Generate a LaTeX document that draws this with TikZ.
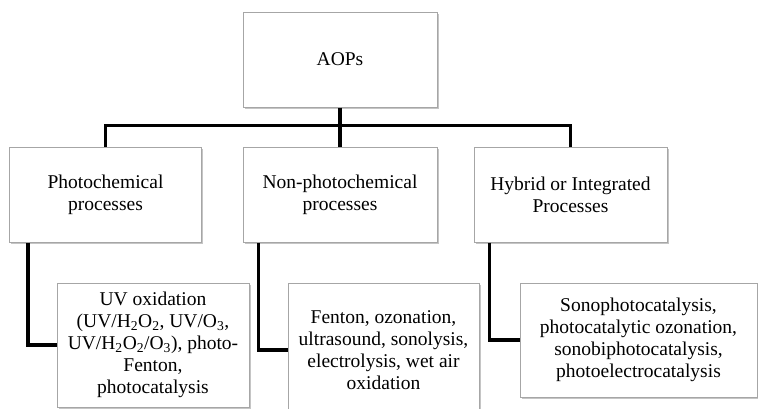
\documentclass[tikz,border=0pt]{standalone}
\usepackage{fontspec}
\setmainfont{Liberation Serif}
\usepackage{tikz}
\usetikzlibrary{positioning,shadows}
\tikzset{procbox/.style={
		draw=gray!70, line width=1pt, fill=white, align=center,
		drop shadow={opacity=0.45, shadow xshift=1.5pt, shadow yshift=-1.5pt},
		font=\fontsize{19.5}{22}\selectfont, inner sep=2pt
	},
	link/.style={line width=3.4pt}
}

\begin{document}
\begin{tikzpicture}[x=1pt, y=-1pt]
	\fill[white] (0,0) rectangle (758,408);
	\useasboundingbox (0,0) rectangle (758,408);
	
	\node[procbox, minimum width=194pt, minimum height=95pt] (aop) at (340, 59.5) {AOPs};
	
	\node[procbox, minimum width=192pt, minimum height=95pt] (photo) at (105.5, 194.5) {Photochemical\\processes};
	\node[procbox, minimum width=194pt, minimum height=95pt] (nonphoto) at (340, 194.5) {Non-photochemical\\processes};
	\node[procbox, minimum width=193pt, minimum height=95pt] (hybrid) at (570.5, 194.5) {Hybrid or Integrated\\Processes};
	
	\node[procbox, minimum width=192pt, minimum height=124pt] (leafphoto) at (153, 345) {UV oxidation\\(UV/H\textsubscript{2}O\textsubscript{2}, UV/O\textsubscript{3},\\UV/H\textsubscript{2}O\textsubscript{2}/O\textsubscript{3}), photo-\\Fenton,\\photocatalysis};
	\node[procbox, minimum width=191pt, minimum height=134pt] (leafnon) at (383.5, 350) {Fenton, ozonation,\\ultrasound, sonolysis,\\electrolysis, wet air\\oxidation};
	\node[procbox, minimum width=237pt, minimum height=114pt] (leafhyb) at (638.5, 340) {Sonophotocatalysis,\\photocatalytic ozonation,\\sonobiphotocatalysis,\\photoelectrocatalysis};
	
	\draw[link] (aop.south) -- ++(0, 18) coordinate (fork);
	\draw[link] (photo.north) |- (fork) -| (hybrid.north);
	\draw[link] (fork) -- (nonphoto.north);
	
	\draw[link] ([xshift=19pt]photo.south west) |- (leafphoto.west);
	\draw[link] ([xshift=16pt]nonphoto.south west) |- (leafnon.west);
	\draw[link] ([xshift=16pt]hybrid.south west) |- (leafhyb.west);
\end{tikzpicture}
\end{document}
